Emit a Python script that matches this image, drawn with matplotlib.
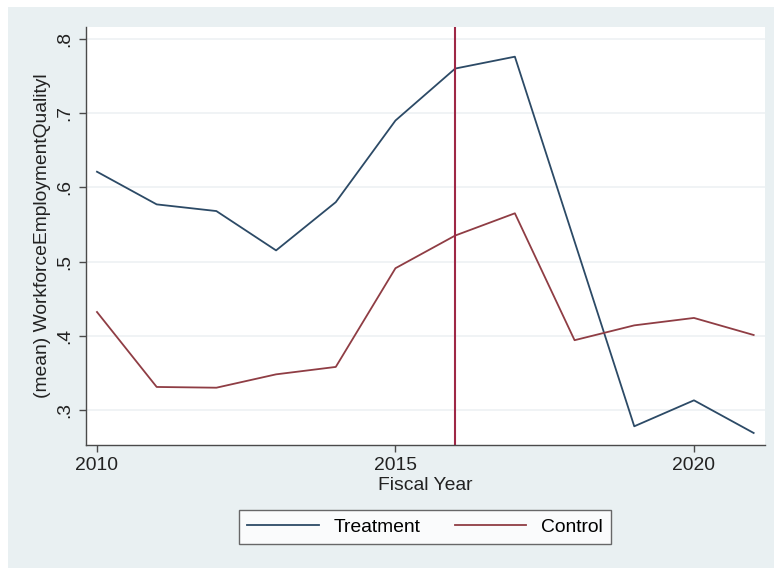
import matplotlib
matplotlib.use("Agg")
import matplotlib.pyplot as plt
from matplotlib.patches import Rectangle

plt.rcParams["font.family"] = ["Liberation Sans", "DejaVu Sans"]

# yearly means by group
years = [2010, 2011, 2012, 2013, 2014, 2015, 2016, 2017, 2018, 2019, 2020, 2021]
treatment = [0.621, 0.577, 0.568, 0.515, 0.580, 0.690, 0.760, 0.776, 0.527, 0.278, 0.313, 0.269]
control = [0.432, 0.331, 0.330, 0.348, 0.358, 0.491, 0.535, 0.565, 0.394, 0.414, 0.424, 0.401]
event_year = 2016
x_ticks = [2010, 2015, 2020]
y_ticks = [0.3, 0.4, 0.5, 0.6, 0.7, 0.8]
y_tick_labels = [".3", ".4", ".5", ".6", ".7", ".8"]

BG = "#e9f0f2"
NAVY = "#2c4a66"
MAROON = "#8f3d44"
VLINE = "#9e2846"
AXIS = "#4a4a4a"
FS = 13.9

fig = plt.figure(figsize=(7.74, 5.68), dpi=100, facecolor="white")
fig.patches.append(Rectangle((8 / 774, 0), 1, 1 - 7 / 568, transform=fig.transFigure,
                             facecolor=BG, edgecolor="none", zorder=-10))

ax = fig.add_axes([86 / 774, 1 - 445 / 568, (765 - 86) / 774, (445 - 27) / 568])
ax.set_facecolor("white")

ax.plot(years, treatment, color=NAVY, lw=1.3, label="Treatment")
ax.plot(years, control, color=MAROON, lw=1.3, label="Control")
ax.axvline(event_year, color=VLINE, lw=1.5)

ax.set_xlim(2009.816, 2021.19)
ax.set_ylim(0.2528, 0.816)
ax.set_xticks(x_ticks)
ax.set_xticklabels([str(t) for t in x_ticks], fontsize=FS, color="#222222")
ax.set_yticks(y_ticks)
ax.set_yticklabels(y_tick_labels, fontsize=FS, color="#222222", rotation=90, va="center")

ax.grid(axis="y", color="#edf1f3", lw=1.2)
ax.set_axisbelow(True)
for side in ("top", "right"):
    ax.spines[side].set_visible(False)
for side in ("left", "bottom"):
    ax.spines[side].set_color(AXIS)
    ax.spines[side].set_linewidth(1.0)
ax.tick_params(axis="both", direction="out", length=5, width=1.0, color=AXIS, pad=4)

ax.set_xlabel("Fiscal Year", fontsize=FS, color="#222222", labelpad=2)
ax.set_ylabel("(mean) WorkforceEmploymentQualityl", fontsize=FS, color="#222222", labelpad=4)

leg = fig.legend(loc="center", bbox_to_anchor=(425 / 774, 1 - 527 / 568), ncol=2,
                 fontsize=FS, frameon=True, fancybox=False, edgecolor="#444444",
                 handlelength=3.7, handletextpad=0.75, columnspacing=1.8,
                 borderpad=0.45, borderaxespad=0)
leg.get_frame().set_linewidth(1.0)
leg.get_frame().set_facecolor("white")

fig.savefig("out.png", dpi=100, facecolor=fig.get_facecolor())
